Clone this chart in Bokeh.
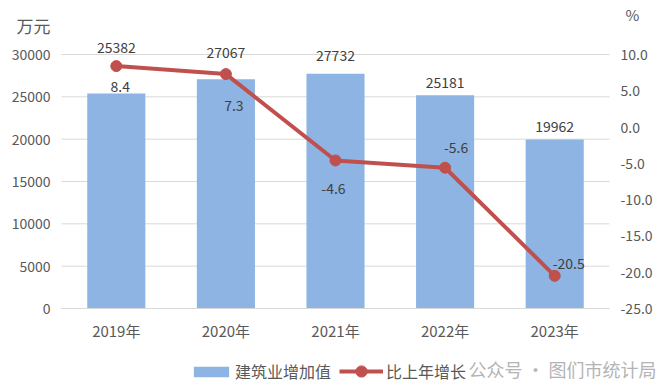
from bokeh.plotting import figure
from bokeh.models import (Range1d, LinearAxis, FixedTicker, NumeralTickFormatter,
                          Legend, LegendItem, Label, ColumnDataSource)
from bokeh.core.properties import value
from bokeh.embed import file_html
from bokeh.resources import INLINE

# ---- data ----
years = ["2019年", "2020年", "2021年", "2022年", "2023年"]
value_added = [25382, 27067, 27732, 25181, 19962]      # 建筑业增加值 (万元)
growth = [8.4, 7.3, -4.6, -5.6, -20.5]                  # 比上年增长 (%)
left_ticks = [0, 5000, 10000, 15000, 20000, 25000, 30000]
right_ticks = [-25, -20, -15, -10, -5, 0, 5, 10]
left_min_tick, left_max_tick = 0, 30000
right_min_tick, right_max_tick = -25, 10

# ---- layout (pixels); the frame fills the whole canvas, axes sit at fixed locations ----
W, H = 663, 386
PLOT_L, PLOT_R = 61, 609      # category area
PLOT_T, PLOT_B = 54, 308      # top tick / zero line
n = len(years)
cw = (PLOT_R - PLOT_L) / n
xpos = [i + 0.5 for i in range(n)]

def y_range_for(lo, hi):
    per_px = (hi - lo) / (PLOT_B - PLOT_T)
    return Range1d(lo - (H - PLOT_B) * per_px, hi + PLOT_T * per_px)

# label placement (pixels, positive = down / right)
bar_label_dy = [-46, -27, -18, -13, -13]
line_label_dx = [4, 8, -2, 11, 14]
line_label_dy = [20, 31, 28, -20, -12]

FONT = "Noto Sans CJK SC"
TXT = "#595959"
LBL = "#404040"
GRID = "#d9d9d9"
BAR = "#8DB4E3"
LINE = "#C0504D"

p = figure(width=W, height=H,
           x_range=Range1d(-PLOT_L / cw, n + (W - PLOT_R) / cw),
           y_range=y_range_for(left_min_tick, left_max_tick),
           output_backend="svg", toolbar_location=None,
           min_border_left=0, min_border_right=0, min_border_top=0, min_border_bottom=0)
p.title.visible = False
p.outline_line_color = None
p.background_fill_color = "white"
p.border_fill_color = "white"
p.extra_y_ranges = {"pct": y_range_for(right_min_tick, right_max_tick)}
p.xgrid.visible = False
p.ygrid.visible = False

def style_axis(ax, size="14px", standoff=11):
    ax.major_tick_line_color = None
    ax.minor_tick_line_color = None
    ax.major_tick_out = 0
    ax.major_tick_in = 0
    ax.minor_tick_out = 0
    ax.minor_tick_in = 0
    ax.major_label_standoff = standoff
    ax.major_label_text_font = FONT
    ax.major_label_text_font_size = size
    ax.major_label_text_color = TXT

# left axis
ya = p.yaxis[0]
ya.ticker = FixedTicker(ticks=left_ticks)
ya.formatter = NumeralTickFormatter(format="0")
ya.axis_line_color = None
ya.fixed_location = 0
style_axis(ya)

# right axis
ra = LinearAxis(y_range_name="pct", ticker=FixedTicker(ticks=right_ticks),
                formatter=NumeralTickFormatter(format="0.0"), fixed_location=n)
ra.axis_line_color = None
style_axis(ra)
p.add_layout(ra, "right")

# x axis (categories)
xa = p.xaxis[0]
xa.ticker = FixedTicker(ticks=xpos)
xa.major_label_overrides = {x: lab for x, lab in zip(xpos, years)}
xa.fixed_location = 0
xa.bounds = (0, n)
xa.axis_line_color = GRID
xa.axis_line_width = 1
style_axis(xa, size="15px", standoff=11)

# horizontal grid lines over the category area only
p.segment(x0=[0] * len(left_ticks), x1=[n] * len(left_ticks), y0=left_ticks, y1=left_ticks,
          line_color=GRID, line_width=1)

src = ColumnDataSource(dict(x=xpos, v=value_added, g=growth,
                            vt=[str(v) for v in value_added],
                            gt=["%.1f" % g for g in growth],
                            bdy=bar_label_dy, ldx=line_label_dx, ldy=line_label_dy))

bars = p.vbar(x="x", top="v", width=0.53, source=src, fill_color=BAR, line_color=None)
ln = p.line(x="x", y="g", source=src, y_range_name="pct", line_color=LINE, line_width=4)
pts = p.scatter(x="x", y="g", source=src, y_range_name="pct", size=11,
                fill_color=LINE, line_color=LINE)

p.text(x="x", y="v", text="vt", source=src, y_offset="bdy",
       text_align="center", text_baseline="middle", text_font=value(FONT),
       text_font_size="14px", text_color=LBL)
p.text(x="x", y="g", text="gt", source=src, y_range_name="pct",
       x_offset="ldx", y_offset="ldy",
       text_align="center", text_baseline="middle", text_font=value(FONT),
       text_font_size="14px", text_color=LBL)

# axis unit labels (screen units from the bottom-left corner)
p.add_layout(Label(x=50, y=H - 25, x_units="screen", y_units="screen", text="万元",
                   text_font=FONT, text_font_size="17px", text_color=TXT,
                   text_baseline="middle", text_align="right"))
p.add_layout(Label(x=625, y=H - 14, x_units="screen", y_units="screen", text="%",
                   text_font=FONT, text_font_size="15px", text_color=TXT,
                   text_baseline="middle", text_align="left"))

# legends (two, so the bar swatch stays flat while the line marker stays large)
leg_common = dict(orientation="horizontal", padding=0, margin=0, border_line_color=None,
                  background_fill_alpha=0, label_text_font=FONT,
                  label_text_font_size="16px", label_text_color=TXT, label_height=16)
legend1 = Legend(items=[LegendItem(label="建筑业增加值", renderers=[bars])],
                 location=(189, 3), glyph_width=44, glyph_height=13, label_standoff=2,
                 **leg_common)
legend2 = Legend(items=[LegendItem(label="比上年增长", renderers=[ln, pts])],
                 location=(339, 1), glyph_width=44, glyph_height=28, label_standoff=3,
                 **leg_common)
p.add_layout(legend1, "center")
p.add_layout(legend2, "center")

# watermark
p.add_layout(Label(x=468, y=H - 368, x_units="screen", y_units="screen",
                   text="公众号 · 图们市统计局", text_font=FONT, text_font_size="18px",
                   text_color="#b4b4b4", text_baseline="middle", text_align="left"))

open("out.html", "w").write(file_html(p, INLINE))
